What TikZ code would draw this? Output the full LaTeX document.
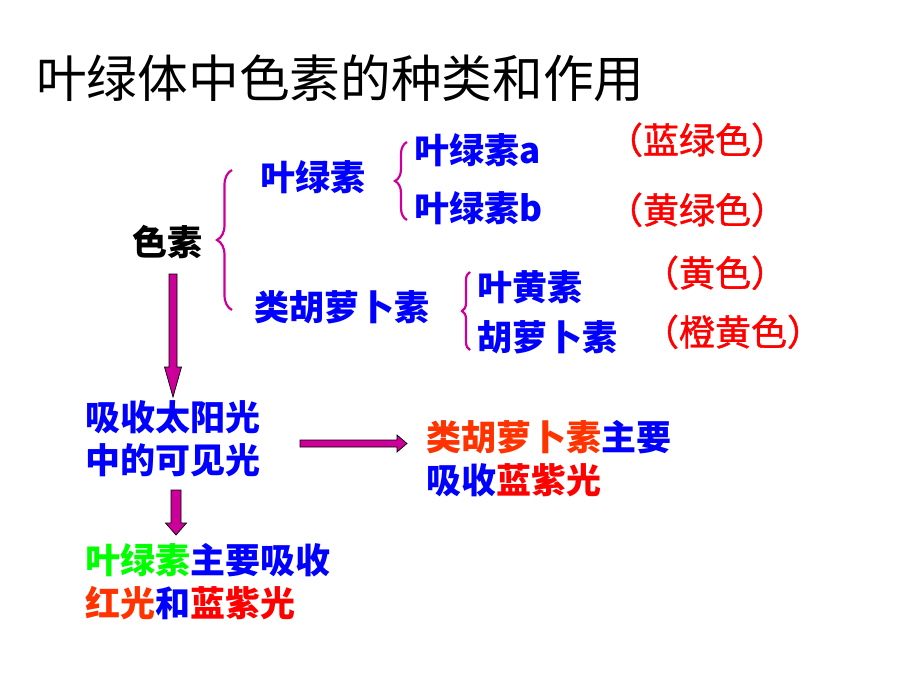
\documentclass[tikz,border=0pt]{standalone}
\usepackage{fontspec}
\setmainfont{Noto Sans CJK SC}
\newfontfamily\medfont{Noto Sans CJK SC}[FakeBold=1.2]
\usetikzlibrary{decorations.pathreplacing,calc}
\definecolor{blu}{RGB}{0,0,255}
\definecolor{mag}{RGB}{204,0,153}
\definecolor{orr}{RGB}{255,51,0}
\definecolor{rd}{RGB}{255,0,0}
\definecolor{grn}{RGB}{0,255,0}
\tikzset{
  bt/.style={anchor=west, inner sep=0pt, text=blu, font=\bfseries\fontsize{35}{35}\selectfont, text height=31pt, text depth=4pt},
  rt/.style={anchor=center, inner sep=0pt, text=rd, font=\medfont\fontsize{36}{36}\selectfont, text height=31pt, text depth=4pt},
  bracestyle/.style={draw=mag, line width=2.2pt, decorate, decoration={brace, amplitude=#1}},
  barrow/.style={draw=black, line width=0.7pt, fill=mag, line join=miter}
}
\begin{document}
\begin{tikzpicture}[x=1pt, y=-1pt]
\fill[white] (0,0) rectangle (920,690);
\useasboundingbox (0,0) rectangle (920,690);
% title
\node[anchor=west, inner sep=0pt, font=\fontsize{50.7}{50.7}\selectfont, text height=44pt, text depth=6pt] (title) at (36,79) {叶绿体中色素的种类和作用};
% tree
\node[bt, text=black] (sesu) at (132,242) {色素};
\node[bt] (ylsu) at (260,177) {叶绿素};
\node[bt] (ylsa) at (414,150) {叶绿素a};
\node[bt] (ylsb) at (414,208) {叶绿素b};
\node[bt] (lhlbs) at (254,307) {类胡萝卜素};
\node[bt] (yhs) at (477,287) {叶黄素};
\node[bt] (hlbs) at (477,337) {胡萝卜素};
% colours
\node[rt] (c1) at (697,140) {（蓝绿色）};
\node[rt] (c2) at (697,210) {（黄绿色）};
\node[rt] (c3) at (715,273) {（黄色）};
\node[rt] (c4) at (733,332) {（橙黄色）};
% braces
\draw[bracestyle=15pt] (232,310) -- (232,170);
\draw[bracestyle=12pt] (407,220) -- (407,142);
\draw[bracestyle=8pt] (470,350) -- (470,272);
% lower texts
\node[bt] (xs1) at (85,417) {吸收太阳光};
\node[bt] (xs2) at (85,460) {中的可见光};
\node[bt] (r1) at (426,437) {{\color{orr}类胡萝卜素}主要};
\node[bt] (r2) at (426,480) {吸收{\color{rd}蓝紫光}};
\node[bt] (g1) at (85,560) {{\color{grn}叶绿素}主要吸收};
\node[bt] (g2) at (85,603) {{\color{orr}红光}和{\color{rd}蓝紫光}};
% arrow coordinates
\coordinate (a1s) at (173,274);
\coordinate (a1e) at (173,397);
\coordinate (a2s) at (300,443.5);
\coordinate (a2e) at (407,443.5);
\coordinate (a3s) at (176,490);
\coordinate (a3e) at (176,535);
% arrow 1 (down)
\draw[barrow] ([xshift=-4pt]a1s) -- ([xshift=-4pt,yshift=30pt]a1e) -- ([xshift=-8.5pt,yshift=30pt]a1e) -- (a1e) -- ([xshift=8.5pt,yshift=30pt]a1e) -- ([xshift=4pt,yshift=30pt]a1e) -- ([xshift=4pt]a1s) -- cycle;
% arrow 2 (right)
\draw[barrow] ([yshift=3.5pt]a2s) -- ([xshift=-10pt,yshift=3.5pt]a2e) -- ([xshift=-10pt,yshift=8.5pt]a2e) -- (a2e) -- ([xshift=-10pt,yshift=-8.5pt]a2e) -- ([xshift=-10pt,yshift=-3.5pt]a2e) -- ([yshift=-3.5pt]a2s) -- cycle;
% arrow 3 (down)
\draw[barrow] ([xshift=-5pt]a3s) -- ([xshift=-5pt,yshift=12pt]a3e) -- ([xshift=-10.5pt,yshift=12pt]a3e) -- (a3e) -- ([xshift=10.5pt,yshift=12pt]a3e) -- ([xshift=5pt,yshift=12pt]a3e) -- ([xshift=5pt]a3s) -- cycle;
\end{tikzpicture}
\end{document}
